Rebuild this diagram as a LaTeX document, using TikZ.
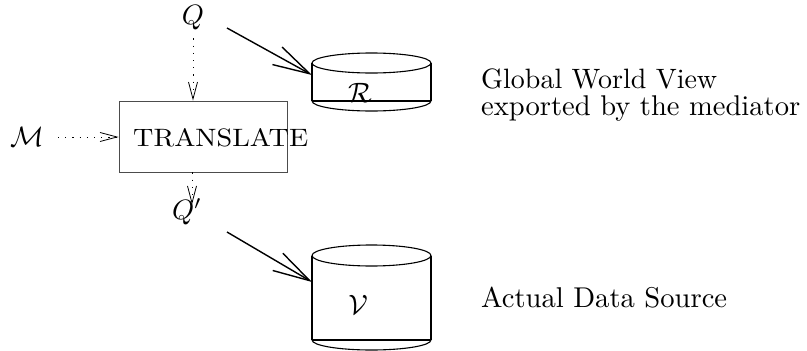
\documentclass[tikz,border=0pt]{standalone}
\usepackage{graphicx}
\usetikzlibrary{arrows.meta}
\newcommand{\sbx}[1]{\scalebox{2.8}{#1}}
\begin{document}
\begin{tikzpicture}[x=1pt,y=-1pt,
  font=\fontsize{10}{12}\selectfont,
  dotarrow/.style={line width=0.8pt, dash pattern=on 1.2pt off 6pt,
    -{Straight Barb[length=17pt,width=9pt,line width=0.8pt]}},
  solidarrow/.style={line width=1.4pt,
    -{Straight Barb[length=37pt,width=20pt,line width=1.4pt]}},
  cyl/.style={line width=1.1pt},
  cylbase/.style={line width=2pt},
  box/.style={draw=black!70, line width=0.8pt, minimum width=168pt, minimum height=71pt, inner sep=0pt},
  lbl/.style={inner sep=0pt}]
\useasboundingbox (0,0) rectangle (807,351);

% nodes
\node[lbl] (Q) at (193,18) {\sbx{$Q$}};
\node[lbl] (M) at (27,137) {\sbx{$\mathcal{M}$}};
\node[lbl] (Qp) at (187,212) {\sbx{$Q'$}};
\node[box] (T) at (203,136.5) {};
\node[lbl, anchor=base west] (Tt) at (133,146) {\resizebox{175pt}{18pt}{TRANSLATE}};

% cylinder R
\coordinate (Rl) at (312,75);
\draw[cyl] (371.5,63) ellipse [x radius=59.5, y radius=10];
\draw[cyl] (312,63) -- (312,101) (431,63) -- (431,101);
\draw[cyl] (312,101) arc[start angle=180, end angle=0, x radius=59.5, y radius=10];
\draw[cylbase] (312,101) -- (431,101);
\node[lbl] (R) at (360,93) {\sbx{$\mathcal{R}$}};

% cylinder V
\coordinate (Vl) at (312,282);
\draw[cyl] (371.5,255.5) ellipse [x radius=59.5, y radius=10.5];
\draw[cyl] (312,255.5) -- (312,340) (431,255.5) -- (431,340);
\draw[cyl] (312,340) arc[start angle=180, end angle=0, x radius=59.5, y radius=10];
\draw[cylbase] (312,340) -- (431,340);
\node[lbl] (V) at (358,305) {\sbx{$\mathcal{V}$}};

% texts
\node[lbl, anchor=base west] (G1) at (481,88) {\sbx{Global World View}};
\node[lbl, anchor=base west] (G2) at (481,115) {\resizebox{319pt}{!}{exported by the mediator}};
\node[lbl, anchor=base west] (A) at (481,307) {\resizebox{246pt}{!}{Actual Data Source}};

% connectors
\draw[dotarrow] ([xshift=14pt]M.east) -- (T.west |- M);
\draw[dotarrow] ([yshift=-8pt]Q.south) -- (Q.south |- T.north);
\draw[dotarrow] (T.south -| 192,0) -- ([yshift=-6pt]Qp.north -| 192,0);
\coordinate (qs) at (227,28);
\coordinate (qps) at (227,232);
\draw[solidarrow] (qs) -- (Rl);
\draw[solidarrow] (qps) -- (Vl);
\end{tikzpicture}
\end{document}
